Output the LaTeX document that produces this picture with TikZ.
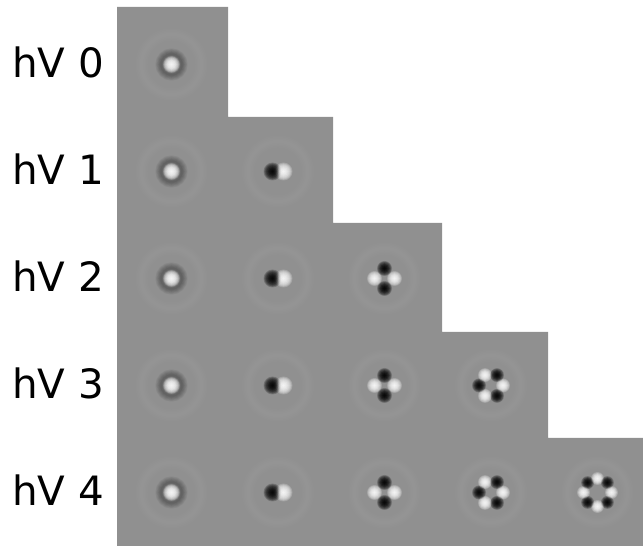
\documentclass[tikz,border=0pt]{standalone}
\usepackage{fontspec}
\setmainfont{DejaVu Sans}
\definecolor{feld}{RGB}{144,144,144}
\tikzset{
  etikett/.style={anchor=base west,inner sep=0pt,font=\fontsize{23}{28}\selectfont},
  schicht/.style={opacity=0.16},
  kranz/.style={black,opacity=0.045},
  halo/.style={white,opacity=0.015},
}

\begin{document}
\begin{tikzpicture}[x=0.02cm,y=-0.02cm]
  \useasboundingbox (0,0) rectangle (643,546);
  \fill[feld] (117,7) -| (228,117) -| (333,223) -| (442,332) -| (548,438) -| (643,546) -| cycle;
  \foreach \j in {0,...,4}
    \node[etikett] (hv\j) at (12,{77.5+107*\j}) {hV \j};
  % column n holds the order-n pattern, lobes as stacked soft discs
  \foreach \n in {0,...,4} {
    \pgfmathsetmacro\d{{0,5.5,10,12,14}[\n]}
    \pgfmathsetmacro\r{{8.5,9,7.5,7,6.5}[\n]}
    \pgfmathtruncatemacro\m{2*\n}
    \foreach \j in {\n,...,4} {
      \coordinate (b\n\j) at ({171.5+106.5*\n},{64.5+107*\j});
      \foreach \s in {1,...,4}
        \draw[halo,line width={\s*1.7pt}] (b\n\j) circle (30);
      \ifnum\n=0
        \foreach \s in {1,...,8}
          \draw[kranz,line width={\s*0.8pt}] (b\n\j) circle (10.5);
        \foreach \s in {1,...,14}
          \fill[white,schicht] (b\n\j) circle ({\r*\s/14});
      \else
        \foreach \s in {14,...,1}
          \foreach \k in {1,...,\m} {
            \ifodd\k \def\farbe{white}\else\def\farbe{black}\fi
            \fill[\farbe,schicht] ([shift={({(\k-1)*180/\n}:\d)}]b\n\j) circle ({\r*\s/14});
          }
      \fi
    }
  }
\end{tikzpicture}
\end{document}
